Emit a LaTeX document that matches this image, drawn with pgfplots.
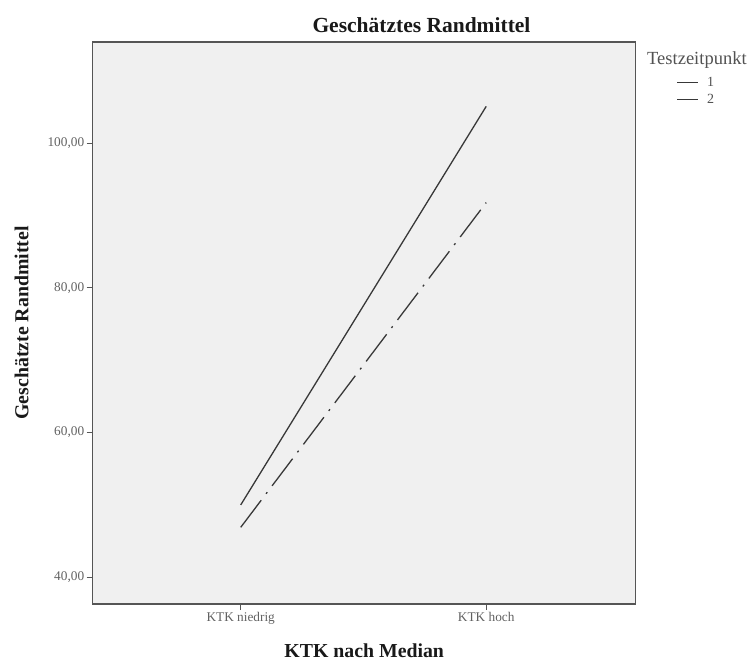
\documentclass[border=0pt]{standalone}
\usepackage{pgfplots}
\pgfplotsset{compat=1.18}
\usepackage{fontspec}
\setmainfont{Liberation Serif}
\definecolor{bg}{HTML}{F0F0F0}
\definecolor{ax}{HTML}{555555}
\begin{document}
\begin{tikzpicture}[x=1pt,y=1pt]
\path (0,0) rectangle (749,662);
\begin{axis}[
  at={(92.7pt,58pt)}, anchor=south west,
  scale only axis, width=543pt, height=562pt,
  xmin=-0.603, xmax=1.609, ymin=36.3, ymax=114,
  xtick={0,1}, xticklabels={KTK niedrig, KTK hoch},
  ytick={40,60,80,100},
  yticklabels={{40,00},{60,00},{80,00},{100,00}},
  axis background/.style={fill=bg},
  axis line style={ax, line width=1.1pt},
  tick style={ax, line width=1pt},
  tick align=outside, major tick length=6pt,
  xtick pos=bottom, ytick pos=left,
  ticklabel style={font=\fontsize{13.3}{14}\selectfont, text=black!62},
  xticklabel style={yshift=1pt},
  yticklabel style={xshift=1pt},
  xlabel={\textbf{KTK nach Median}},
  ylabel={\textbf{Geschätzte Randmittel}},
  every axis x label/.style={at={(rel axis cs:0.5,0)}, yshift=-47pt, anchor=center},
  every axis y label/.style={at={(rel axis cs:0,0.5)}, xshift=-71pt, rotate=90, anchor=center},
  xlabel style={font=\fontsize{19.8}{21}\selectfont, text=black!90},
  ylabel style={font=\fontsize{19.8}{21}\selectfont, text=black!90},
  title={\textbf{Geschätztes Randmittel}},
  every axis title/.style={at={(rel axis cs:0.6055,1)}, yshift=17pt, anchor=center},
  title style={font=\fontsize{21.5}{23}\selectfont, text=black!90},
  clip=false,
]
\addplot[black!78, line width=1.3pt] coordinates {(0,50.0) (1,105.1)};
\addplot[black!78, line width=1.3pt, dash pattern=on 34pt off 8pt on 2pt off 8pt] coordinates {(0,46.9) (1,91.8)};
\end{axis}
\node[anchor=west, font=\fontsize{18.5}{19}\selectfont, text=black!68, inner sep=0pt] at (647,602) {Testzeitpunkt};
\draw[black!78, line width=1.3pt] (677,579.3) -- (698,579.3);
\node[anchor=west, font=\fontsize{14}{15}\selectfont, text=black!68, inner sep=0pt] at (707,580) {1};
\draw[black!78, line width=1.3pt] (677,562.7) -- (698,562.7);
\node[anchor=west, font=\fontsize{14}{15}\selectfont, text=black!68, inner sep=0pt] at (707,563) {2};
\end{tikzpicture}
\end{document}
